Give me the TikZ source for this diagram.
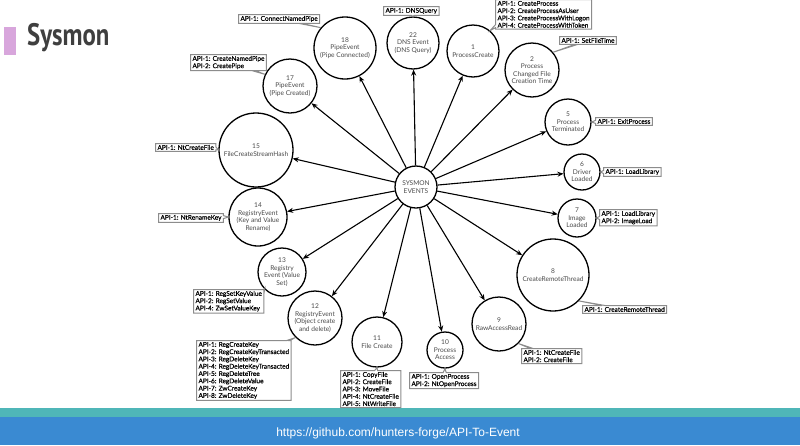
\documentclass[tikz,border=0pt]{standalone}
\usepackage{graphicx}
\usepackage{fontspec}
\setmainfont{Lato}
\newfontfamily\apifont[FakeBold=0.35]{Lato}
\newfontfamily\titlefont{PT Sans}
\newfontfamily\urlfont{Liberation Sans}
\usetikzlibrary{arrows.meta,shapes.callouts}
\definecolor{evtxt}{HTML}{4A4A4A}
\definecolor{boxgray}{HTML}{8C8C8C}
\definecolor{titlegray}{HTML}{3F3F3F}
\definecolor{barpurple}{HTML}{D8A6DC}
\definecolor{bandteal}{HTML}{4FB6B8}
\definecolor{bandblue}{HTML}{3A8AD2}
\tikzset{
  evt/.style={circle, draw=black, line width=1.3pt, inner sep=-4pt, align=center,
    text=evtxt, font=\fontsize{6.6}{7.5}\selectfont},
  api/.style={rectangle callout, draw=boxgray, line width=1pt, fill=white, align=left,
    font=\apifont\fontsize{6.5}{7.3}\selectfont, text=black, inner xsep=2pt, inner ysep=1.5pt,
    callout pointer width=3pt, anchor=north west},
  link/.style={-{Stealth[length=6pt,width=5pt]}, line width=1.1pt},
}
\begin{document}
\begin{tikzpicture}[x=1pt,y=-1pt]
\useasboundingbox (0,0) rectangle (800,445);
\fill[white] (0,0) rectangle (800,445);
% header
\fill[barpurple] (4,27) rectangle (16,55);
\node[anchor=base west, inner sep=0, text=titlegray,
  font=\titlefont\bfseries\fontsize{31}{31}\selectfont] (title) at (27,45) {\scalebox{0.8}[1]{Sysmon}};
% footer
\fill[bandteal] (0,408) rectangle (800,417);
\fill[bandblue] (0,417) rectangle (800,445);
\node[text=white, font=\urlfont\fontsize{12}{12}\selectfont] (url) at (398,433) {https://github.com/hunters-forge/API-To-Event};
% center
\node[evt, minimum size=42pt] (c0) at (416,187) {SYSMON\\EVENTS};
% events
\node[evt, minimum size=62pt] (e18) at (345,48) {18\\PipeEvent\\(Pipe Connected)};
\node[evt, minimum size=52pt] (e22) at (413,43) {22\\DNS Event\\(DNS Query)};
\node[evt, minimum size=52pt] (e1) at (473,51) {1\\ProcessCreate};
\node[evt, minimum size=54pt] (e2) at (532,70) {2\\Process\\Changed File\\Creation Time};
\node[evt, minimum size=46pt] (e5) at (568,122) {5\\Process\\Terminated};
\node[evt, minimum size=36pt] (e6) at (582,172) {6\\Driver\\Loaded};
\node[evt, minimum size=38pt] (e7) at (577,218) {7\\Image\\Loaded};
\node[evt, minimum size=72pt] (e8) at (553,275) {8\\CreateRemoteThread};
\node[evt, minimum size=54pt] (e9) at (499,324) {9\\RawAccessRead};
\node[evt, minimum size=36pt] (e10) at (445,350) {10\\Process\\Access};
\node[evt, minimum size=50pt] (e11) at (377,342) {11\\File Create};
\node[evt, minimum size=54pt] (e12) at (315,318) {12\\RegistryEvent\\(Object create\\and delete)};
\node[evt, minimum size=48pt] (e13) at (282,272) {13\\Registry\\Event (Value\\Set)};
\node[evt, minimum size=58pt] (e14) at (258,217) {14\\RegistryEvent\\(Key and Value\\Rename)};
\node[evt, minimum size=74pt] (e15) at (256,150) {15\\FileCreateStreamHash};
\node[evt, minimum size=54pt] (e17) at (290,86) {17\\PipeEvent\\(Pipe Created)};
% arrows
\foreach \t in {e18,e22,e1,e2,e5,e6,e7,e8,e9,e10,e11,e12,e13,e14,e15,e17}
  \draw[link] (c0) -- (\t);
% callouts
\node[api, callout absolute pointer={(e18.140)}] (a18) at (238,14) {API-1: ConnectNamedPipe};
\node[api, callout absolute pointer={(e22.90)}] (a22) at (383,6) {API-1: DNSQuery};
\node[api, callout absolute pointer={(e1.50)}] (a1) at (495,-1) {API-1: CreateProcess\\API-2: CreateProcessAsUser\\API-3: CreateProcessWithLogon\\API-4: CreateProcessWithToken};
\node[api, callout absolute pointer={(e2.40)}] (a2) at (559,36) {API-1: SetFileTime};
\node[api, callout absolute pointer={(e5.0)}] (a5) at (595,117) {API-1: ExitProcess};
\node[api, callout absolute pointer={(e6.0)}] (a6) at (603,167) {API-1: LoadLibrary};
\node[api, callout absolute pointer={(e7.0)}] (a7) at (599,209) {API-1: LoadLibrary\\API-2: ImageLoad};
\node[api, callout absolute pointer={(e8.-45)}] (a8) at (582,305) {API-1: CreateRemoteThread};
\node[api, callout absolute pointer={(e9.-45)}] (a9) at (521,348) {API-1: NtCreateFile\\API-2: CreateFile};
\node[api, callout absolute pointer={(e10.-90)}] (a10) at (409,372) {API-1: OpenProcess\\API-2: NtOpenProcess};
\node[api, callout absolute pointer={(e11.-90)}] (a11) at (340,370) {API-1: CopyFile\\API-2: CreateFile\\API-3: MoveFile\\API-4: NtCreateFile\\API-5: NtWriteFile};
\node[api, callout absolute pointer={(e12.-135)}] (a12) at (196,340) {API-1: RegCreateKey\\API-2: RegCreateKeyTransacted\\API-3: RegDeleteKey\\API-4: RegDeleteKeyTransacted\\API-5: RegDeleteTree\\API-6: RegDeleteValue\\API-7: ZwCreateKey\\API-8: ZwDeleteKey};
\node[api, callout absolute pointer={(e13.-135)}] (a13) at (193,289) {API-1: RegSetKeyValue\\API-2: RegSetValue\\API-4: ZwSetValueKey};
\node[api, callout absolute pointer={(e14.180)}] (a14) at (158,213) {API-1: NtRenameKey};
\node[api, callout absolute pointer={(e15.180)}] (a15) at (155,143) {API-1: NtCreateFile};
\node[api, callout absolute pointer={(e17.155)}] (a17) at (190,54) {API-1: CreateNamedPipe\\API-2: CreatePipe};
\end{tikzpicture}
\end{document}
